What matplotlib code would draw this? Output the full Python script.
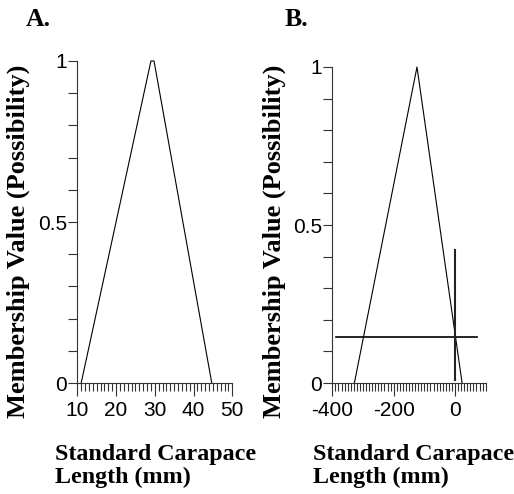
import matplotlib
matplotlib.use("Agg")
import matplotlib.pyplot as plt
from matplotlib.ticker import MultipleLocator, FixedLocator

plt.rcParams["axes.unicode_minus"] = False

# ---- data ----
a_x = [11, 29, 29.8, 44.7]
a_y = [0, 1, 1, 0]
a_xticks = [10, 20, 30, 40, 50]

b_x = [-328, -124, 23]
b_y = [0, 1, 0]
b_hline_y = 0.147
b_hline_x = [-388, 72]
b_vline_x = 0
b_vline_y = [0.01, 0.42]
b_xticks = [-400, -200, 0]

yticks = [0, 0.5, 1]
ytick_labels = ["0", "0.5", "1"]

W, H = 514, 494
fig = plt.figure(figsize=(W / 100, H / 100), dpi=100)

tick_font = dict(family=["Liberation Sans Narrow", "Liberation Sans", "DejaVu Sans"], size=15)
serif = ["Liberation Serif", "DejaVu Serif"]
axcol = "#333333"


def px(x0, y0, x1, y1):
    return [x0 / W, 1 - y1 / H, (x1 - x0) / W, (y1 - y0) / H]


def style(ax, xlim, xmajor, xminor):
    ax.set_xlim(*xlim)
    ax.set_ylim(0, 1)
    for s in ("top", "right"):
        ax.spines[s].set_visible(False)
    for s in ("left", "bottom"):
        ax.spines[s].set_color(axcol)
        ax.spines[s].set_linewidth(0.8)
    ax.xaxis.set_major_locator(FixedLocator(xmajor))
    ax.xaxis.set_minor_locator(MultipleLocator(xminor))
    ax.yaxis.set_major_locator(FixedLocator(yticks))
    ax.set_yticklabels(ytick_labels)
    ax.yaxis.set_minor_locator(MultipleLocator(0.1))
    ax.tick_params(axis="x", which="major", direction="out", length=9.5, width=0.8,
                   color=axcol, pad=3.5)
    ax.tick_params(axis="x", which="minor", direction="out", length=6, width=0.8,
                   color=axcol)
    ax.tick_params(axis="y", which="both", direction="out", length=6.5, width=0.8,
                   color=axcol, pad=1)
    for lab in ax.get_xticklabels() + ax.get_yticklabels():
        lab.set_fontfamily(tick_font["family"])
        lab.set_fontsize(tick_font["size"])


# Panel A
axA = fig.add_axes(px(77.3, 61, 232.3, 383))
axA.plot(a_x, a_y, color="black", lw=0.8, clip_on=False)
style(axA, (10, 50), a_xticks, 1)

# Panel B
axB = fig.add_axes(px(332.3, 67, 485.7, 383))
axB.plot(b_x, b_y, color="black", lw=0.8, clip_on=False)
axB.plot(b_hline_x, [b_hline_y, b_hline_y], color="black", lw=1.2, clip_on=False)
axB.plot([b_vline_x, b_vline_x], b_vline_y, color="#222222", lw=1.5, clip_on=False)
style(axB, (-400, 100), b_xticks, 10)

# Labels
for x_title, x_ylab, x_xlab, t in [(26, 18, 55, "A."), (285, 274, 313, "B.")]:
    fig.text(x_title / W, 1 - 26 / H, t, ha="left", va="baseline",
             family=serif, size=18.5, weight="bold")
    fig.text(x_ylab / W, 1 - 241 / H, "Membership Value (Possibility)", rotation=90,
             ha="center", va="center", family=serif, size=19, weight="bold")
    fig.text(x_xlab / W, 1 - 483.3 / H, "Standard Carapace\nLength (mm)", ha="left",
             va="baseline", linespacing=1.1, family=serif, size=17.3, weight="bold")

fig.savefig("out.png", dpi=100)
